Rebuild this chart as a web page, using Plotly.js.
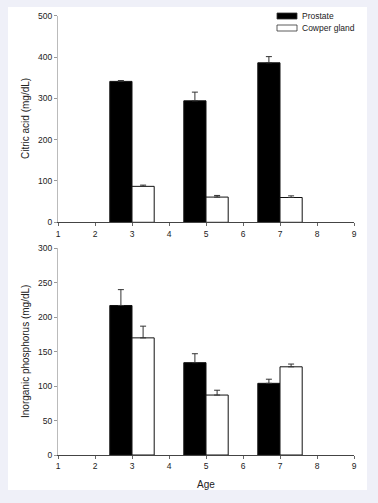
<!DOCTYPE html>
<html>
<head>
<meta charset="utf-8">
<script src="https://cdn.plot.ly/plotly-3.0.1.min.js"></script>
<style>html,body{margin:0;padding:0;background:#eff0f8;}#chart{width:378px;height:503px;}</style>
</head>
<body>
<div id="chart"></div>
<script>
const ages = [3, 5, 7];
const citricProstate = [341, 294, 386];
const citricProstateErr = [2, 21, 15];
const citricCowper = [87, 61, 60];
const citricCowperErr = [3, 4, 4];
const phosProstate = [217, 134, 104];
const phosProstateErr = [23, 13, 6];
const phosCowper = [170, 87, 128];
const phosCowperErr = [17, 7, 4];
const xTicks = [1, 2, 3, 4, 5, 6, 7, 8, 9];
const seriesNames = ['Prostate', 'Cowper gland'];
const seriesFills = ['#000', '#fff'];

const W = 378, H = 503;
const px = v => v / W;
const py = v => 1 - v / H;

function barTrace(y, err, i, xa, ya) {
  return {
    type: 'bar', x: ages, y: y, name: seriesNames[i], xaxis: xa, yaxis: ya,
    showlegend: false,
    marker: {color: seriesFills[i], line: {color: '#111', width: 1}},
    error_y: {type: 'data', array: err, symmetric: false, arrayminus: err.map(()=>0),
              color: '#333', thickness: 1, width: 3}
  };
}

const data = [
  barTrace(citricProstate, citricProstateErr, 0, 'x', 'y'),
  barTrace(citricCowper, citricCowperErr, 1, 'x', 'y'),
  barTrace(phosProstate, phosProstateErr, 0, 'x2', 'y2'),
  barTrace(phosCowper, phosCowperErr, 1, 'x2', 'y2')
];

const fam = 'Liberation Sans, Arial, sans-serif';
const font = {family: fam, size: 8.5, color: '#222'};
const titleFont = {family: fam, size: 10, color: '#222'};
const xdom = [px(58), px(354)];
function xax(anchor) {
  return {domain: xdom, anchor: anchor, range: [1, 9], tickvals: xTicks,
    ticktext: xTicks.map(String), showgrid: false, zeroline: false,
    showline: true, linecolor: '#444', linewidth: 1, ticks: 'outside',
    ticklen: 3, tickcolor: '#666', tickfont: font, fixedrange: true};
}
function yax(anchor, dom, max, dtick) {
  return {domain: dom, anchor: anchor, range: [0, max], dtick: dtick,
    showgrid: false, zeroline: false, showline: true, linecolor: '#bbb',
    linewidth: 1, ticks: 'outside', ticklen: 3, tickcolor: '#999',
    tickfont: font};
}

const legendShapes = seriesNames.map((n, i) => ({
  type: 'rect', xref: 'paper', yref: 'paper',
  x0: px(277), x1: px(297), y0: py(19 + i * 12), y1: py(13 + i * 12),
  fillcolor: seriesFills[i], line: {color: '#333', width: 0.8}
}));
const legendLabels = seriesNames.map((n, i) => ({
  text: n, xref: 'paper', yref: 'paper', x: px(300), y: py(16 + i * 12),
  xanchor: 'left', yanchor: 'middle', showarrow: false,
  font: {family: fam, size: 8.5, color: '#222'}
}));

const layout = {
  width: W, height: H,
  margin: {l: 0, r: 0, t: 0, b: 0},
  paper_bgcolor: '#eff0f8', plot_bgcolor: 'rgba(0,0,0,0)',
  barmode: 'group', bargap: 0.4, bargroupgap: 0,
  showlegend: false,
  xaxis: xax('y'),
  yaxis: yax('x', [py(222.3), py(15.7)], 500, 100),
  xaxis2: xax('y2'),
  yaxis2: yax('x2', [py(455), py(248.3)], 300, 50),
  shapes: [{type: 'rect', xref: 'paper', yref: 'paper', x0: px(8), x1: px(367),
    y0: py(490), y1: py(7), fillcolor: '#fff', line: {width: 0}, layer: 'below'}]
    .concat(legendShapes),
  annotations: [
    {text: 'Citric acid (mg/dL)', xref: 'paper', yref: 'paper', x: px(25), y: py(119),
     textangle: -90, showarrow: false, font: titleFont, xanchor: 'center', yanchor: 'middle'},
    {text: 'Inorganic phosphorus (mg/dL)', xref: 'paper', yref: 'paper', x: px(25), y: py(352),
     textangle: -90, showarrow: false, font: titleFont, xanchor: 'center', yanchor: 'middle'},
    {text: 'Age', xref: 'paper', yref: 'paper', x: px(206), y: py(484),
     showarrow: false, font: titleFont, xanchor: 'center', yanchor: 'middle'}
  ].concat(legendLabels)
};

Plotly.newPlot('chart', data, layout, {displayModeBar: false, staticPlot: true});
</script>
</body>
</html>
